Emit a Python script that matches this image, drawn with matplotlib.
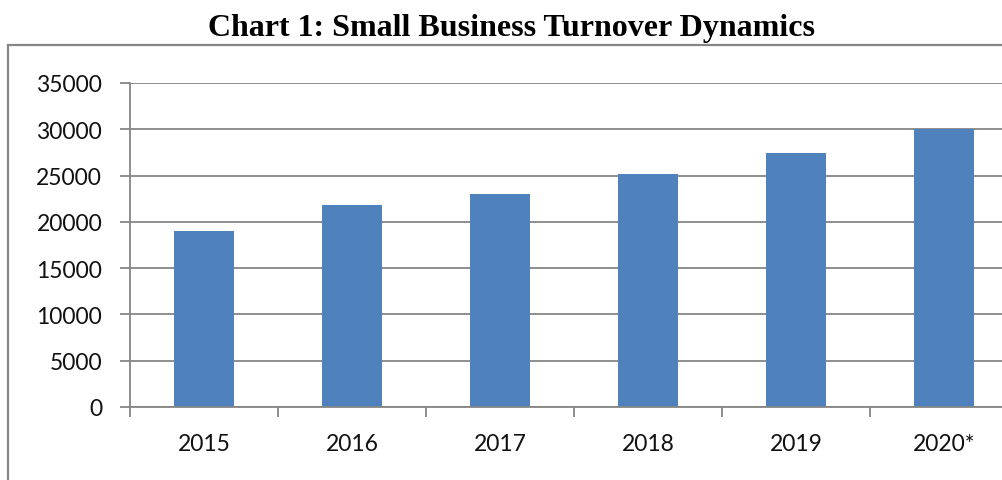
import numpy as np
import matplotlib.pyplot as plt
from matplotlib.patches import Rectangle

years = ["2015", "2016", "2017", "2018", "2019", "2020*"]
turnover = [19000, 21800, 23000, 25200, 27400, 30080]
yticks = [0, 5000, 10000, 15000, 20000, 25000, 30000, 35000]

W, H = 1003, 481
fig = plt.figure(figsize=(W / 100, H / 100), dpi=100)

# outer chart border (runs off the right and bottom edges)
fig.patches.append(Rectangle((8.5 / W, -0.1), 1.2, (H - 45.5) / H + 0.1,
                             transform=fig.transFigure, fill=False,
                             edgecolor="#868686", linewidth=1.6))

fig.text(512 / W, 1 - 29 / H, "Chart 1: Small Business Turnover Dynamics",
         ha="center", va="center", fontsize=23, fontweight="bold",
         family="Liberation Serif")

ax = fig.add_axes([130 / W, 73 / H, 888 / W, 324 / H])
x = np.arange(len(years))
ax.bar(x, turnover, width=0.4, color="#4F81BD", zorder=2)

ax.set_xlim(-0.5, len(years) - 0.5)
ax.set_ylim(0, 35000)
ax.set_yticks(yticks)
ax.set_yticklabels([str(v) for v in yticks])
ax.yaxis.grid(True, color="#868686", linewidth=1.3, zorder=0)

ax.set_xticks(x)
ax.set_xticklabels(years)
ax.set_xticks(np.arange(-0.5, len(years)), minor=True)
ax.tick_params(axis="x", which="major", length=0, pad=19)
ax.tick_params(axis="x", which="minor", length=7, width=1.3, color="#868686")
ax.tick_params(axis="y", length=7, width=1.3, color="#868686", pad=13)
for lab in ax.get_xticklabels() + ax.get_yticklabels():
    lab.set_family("Lato")
    lab.set_fontsize(16.5)
    lab.set_color("#111111")

for s in ["top", "right"]:
    ax.spines[s].set_visible(False)
for s in ["left", "bottom"]:
    ax.spines[s].set_color("#868686")
    ax.spines[s].set_linewidth(1.3)

fig.savefig("out.png", dpi=100)
